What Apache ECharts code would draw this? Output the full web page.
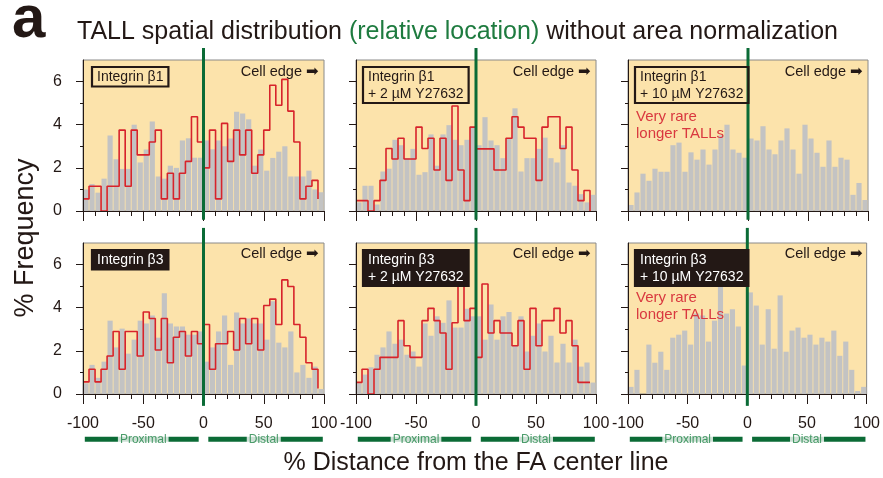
<!DOCTYPE html>
<html><head><meta charset="utf-8">
<script src="https://cdn.jsdelivr.net/npm/echarts@6/dist/echarts.min.js"></script>
<style>html,body{margin:0;padding:0;background:#fff}#c{width:883px;height:478px}</style>
</head><body><div id="c"></div>
<script>
// ---- data ----
const binLeft = [-100,-95,-90,-85,-80,-75,-70,-65,-60,-55,-50,-45,-40,-35,-30,-25,-20,-15,-10,-5,0,5,10,15,20,25,30,35,40,45,50,55,60,65,70,75,80,85,90,95];

// gray histograms (all TALLs)
const b1Gray    = [1.0,1.25,0.85,1.5,3.5,2.4,1.95,1.95,4.0,2.25,2.85,4.15,1.6,1.5,2.1,2.0,3.27,3.37,2.47,2.47,3.27,2.86,3.27,3.0,3.36,4.6,4.52,4.25,2.1,2.85,1.87,2.46,2.75,3.0,1.6,1.6,1.6,1.87,1.0,0.87];
const b1Y2Gray  = [0.4,1.17,1.17,0.3,1.83,1.96,3.3,3.05,2.45,2.88,1.68,1.8,3.55,2.1,3.55,3.98,3.3,3.05,3.3,3.9,3.05,4.35,3.27,3.05,2.45,3.34,4.76,1.83,2.45,2.45,2.88,3.4,2.45,2.25,3.05,1.32,1.17,0.78,0.4,0.75];
const b1Y10Gray = [0.28,0.86,1.73,1.4,1.96,1.82,1.82,3.05,3.17,1.82,2.72,2.38,2.85,2.15,2.85,3.5,4.0,2.85,2.7,2.47,3.36,3.27,3.93,2.85,2.63,3.27,3.83,2.85,1.73,4.0,3.36,2.7,2.05,3.27,2.05,2.47,2.38,0.75,1.3,0.51];
const b3Gray    = [0.5,1.35,0.75,1.5,3.4,2.16,3.03,1.87,2.52,3.4,3.27,3.64,2.61,4.67,3.27,3.13,3.13,2.75,2.75,2.9,1.5,2.16,2.9,3.64,1.35,3.78,3.27,3.5,3.27,3.27,2.52,4.3,2.38,2.16,2.9,1.0,1.35,0.75,1.27,0.23];
const b3Y2Gray  = [0.5,0.9,1.24,1.82,2.16,2.9,2.33,2.52,1.82,1.97,1.27,3.27,2.7,3.6,3.3,4.34,3.08,3.08,3.95,3.6,3.6,2.52,4.15,2.52,3.6,3.8,2.24,3.6,1.97,2.7,3.27,1.97,2.7,1.46,2.33,1.46,2.52,1.27,1.46,0.53];
const b3Y10Gray = [0.33,1.12,0,2.29,1.45,1.96,1.12,2.61,2.75,2.94,2.29,3.73,3.64,2.43,3.4,5.1,3.73,3.93,3.13,1.32,4.71,4.1,2.29,3.93,2.1,4.57,1.96,2.94,3.08,2.61,2.75,2.29,2.61,2.43,2.94,1.77,2.43,1.12,0.14,0.33];

// red step histograms (longer TALLs)
const b1Red   = [0.56,1.15,1.15,0,1.15,1.15,3.75,1.15,3.75,2.6,2.6,3.2,3.75,0.56,1.75,0.56,1.75,2.3,4.37,3.2,2.0,3.75,0.56,4.06,2.3,3.75,2.6,3.75,1.75,2.6,3.75,5.83,4.9,6.1,4.63,3.2,0.56,1.15,1.42,0.56];
const b1Y2Red = [0.48,0.48,0,0.48,1.42,2.9,2.41,3.37,2.41,2.41,3.89,2.9,3.37,1.9,3.37,1.42,4.87,1.9,0.48,3.89,2.88,2.88,2.88,1.9,1.9,3.37,4.37,3.89,3.37,3.37,1.42,3.89,4.37,4.37,2.9,3.89,1.9,0.48,0.95,0];
const b3Red   = [0.56,1.15,0.56,1.15,1.76,2.9,1.15,2.9,2.9,1.76,3.8,3.5,2.04,3.5,1.45,2.63,2.9,1.76,2.9,2.33,3.22,1.15,2.33,2.33,2.9,2.04,3.5,2.33,3.5,2.04,4.1,4.4,3.22,5.29,4.98,3.22,2.63,1.45,1.15,0.25];
const b3Y2Red = [0.54,1.15,0,1.15,1.7,1.7,1.7,3.4,2.24,1.7,1.7,3.4,3.97,3.4,2.83,1.15,3.3,5.1,3.4,3.97,1.7,5.1,2.83,3.4,2.83,2.83,2.24,3.4,1.15,3.97,2.24,3.4,3.4,3.97,2.83,3.4,2.24,0.54,0.54,0.54];

const yTicks = [0,2,4,6];
const panelLabels = ['Integrin β1','Integrin β1\n+ 2 µM Y27632','Integrin β1\n+ 10 µM Y27632','Integrin β3','Integrin β3\n+ 2 µM Y27632','Integrin β3\n+ 10 µM Y27632'];
const grayData = [b1Gray,b1Y2Gray,b1Y10Gray,b3Gray,b3Y2Gray,b3Y10Gray];
const redData  = [b1Red,b1Y2Red,null,b3Red,b3Y2Red,null];
const titleMain = ['TALL spatial distribution ','(relative location)',' without area normalization'];
const xTitle = '% Distance from the FA center line';
const yTitle = '% Frequency';
const noteText = 'Very rare\nlonger TALLs';

// ---- layout / style ----
const FONT = 'Liberation Sans, Arial, Helvetica, sans-serif';
const colLeft = [83,356,628], colW = [241,240,240], rowTop = [60,243], H = 151;
const INK = '#231815', GREEN = '#0B6B36', RED = '#D7232B';

const option = {animation:false, grid:[], xAxis:[], yAxis:[], series:[], graphic:[]};

for (let i=0;i<6;i++){
  const row = Math.floor(i/3), col = i%3;
  option.grid.push({left:colLeft[col], top:rowTop[row], width:colW[col], height:H, show:true,
    backgroundColor:'#FCE3AB', borderColor:'#8a8a8a', borderWidth:1});
  option.xAxis.push({type:'value', gridIndex:i, min:-100, max:100, interval:50, z:10,
    axisLine:{show:true, onZero:false, lineStyle:{color:INK, width:1}},
    axisTick:{show:true, length:10, lineStyle:{color:INK}},
    minorTick:{show:true, splitNumber:5, length:5, lineStyle:{color:INK}},
    splitLine:{show:false}, minorSplitLine:{show:false},
    axisLabel:{show:row===1, margin:22, fontSize:16, color:INK, fontFamily:FONT}});
  option.xAxis.push({type:'category', gridIndex:i, data:binLeft, show:false, boundaryGap:true});
  option.yAxis.push({type:'value', gridIndex:i, min:0, max:7, interval:2, z:10,
    axisLine:{show:true, onZero:false, lineStyle:{color:INK}},
    axisTick:{show:true, length:7, lineStyle:{color:INK}, customValues:yTicks},
    minorTick:{show:true, splitNumber:2, length:3, lineStyle:{color:INK}},
    splitLine:{show:false},
    axisLabel:{show:col===0, margin:21, fontSize:16, color:INK, fontFamily:FONT, customValues:yTicks}});

  option.series.push({type:'bar', xAxisIndex:2*i+1, yAxisIndex:i, data:grayData[i],
    barCategoryGap:'14%', itemStyle:{color:'#C3C3C3'}, z:2, silent:true});
  if (redData[i]) {
    option.series.push({type:'line', xAxisIndex:2*i, yAxisIndex:i, step:'end', symbol:'none',
      data:redData[i].map((v,k)=>[binLeft[k], v]), lineStyle:{color:RED, width:1.6}, z:4, silent:true});
  }
  // green FA-center line at x = 0
  const gl = row===0 ? [-0.4, 7.56] : [-0.55, 7.7];
  option.series.push({type:'line', xAxisIndex:2*i, yAxisIndex:i, symbol:'none', clip:false,
    data:[[0,gl[0]],[0,gl[1]]], lineStyle:{color:GREEN, width:3}, z:20, silent:true});

  if (row===1){
    const yb = -2.1;
    [[-98.5,-4],[4,99]].forEach(seg=>{
      option.series.push({type:'line', xAxisIndex:2*i, yAxisIndex:i, symbol:'none', clip:false,
        data:[[seg[0],yb],[seg[1],yb]], lineStyle:{color:GREEN, width:5}, z:20, silent:true});
    });
    option.series.push({type:'scatter', xAxisIndex:2*i, yAxisIndex:i, clip:false, symbolSize:1,
      itemStyle:{color:'rgba(0,0,0,0)'}, z:21, silent:true,
      data:[{name:'Proximal', value:[-50,yb]},{name:'Distal', value:[50,yb]}],
      label:{show:true, position:'inside', formatter:'{b}', color:'#218447', fontSize:12, fontFamily:FONT,
        backgroundColor:'#ffffff', padding:[0,2]}});
  }

  // panel label box
  const dark = row===1;
  const boxDx = [9,7,7][col];
  option.graphic.push({type:'text', x:colLeft[col]+boxDx, y:rowTop[row]+7, z:30,
    style:{text:panelLabels[i], font:'14px '+FONT, fill: dark?'#ffffff':INK, lineHeight:16.5,
      backgroundColor: dark? INK : 'rgba(0,0,0,0)', borderColor:INK, borderWidth:1.1, padding:[2,5,1,5],
      textAlign:'left', textVerticalAlign:'top'}});
  // cell edge note
  option.graphic.push({type:'text', x:colLeft[col]+colW[col]-5, y:rowTop[row]+(row===0?12:11), z:30,
    style:{text:'Cell edge ➡', font:'14.5px '+FONT, fill:INK, textAlign:'right', textVerticalAlign:'middle'}});
  if (col===2){
    option.graphic.push({type:'text', x:colLeft[col]+8, y:rowTop[row]+(row===0?48:46), z:30,
      style:{text:noteText, font:'15px '+FONT, fill:'#D9383F', lineHeight:17, textAlign:'left', textVerticalAlign:'top'}});
  }
}

// titles
option.graphic.push({type:'text', x:12, y:20, style:{text:'a', font:'bold 60px '+FONT, fill:INK, textAlign:'left', textVerticalAlign:'middle'}});
option.graphic.push({type:'text', x:77, y:32, style:{
  text:'{k|'+titleMain[0]+'}{g|'+titleMain[1]+'}{k|'+titleMain[2]+'}',
  rich:{k:{fill:INK, font:'25px '+FONT}, g:{fill:'#1E7B3F', font:'25px '+FONT}},
  textAlign:'left', textVerticalAlign:'middle'}});
option.graphic.push({type:'text', x:476, y:463, style:{text:xTitle, font:'25px '+FONT, fill:INK, textAlign:'center', textVerticalAlign:'middle'}});
option.graphic.push({type:'text', x:26, y:238, rotation:Math.PI/2, style:{text:yTitle, font:'27px '+FONT, fill:INK, textAlign:'center', textVerticalAlign:'middle'}});

const chart = echarts.init(document.getElementById('c'), null, {renderer:'canvas'});
chart.setOption(option);
</script></body></html>
